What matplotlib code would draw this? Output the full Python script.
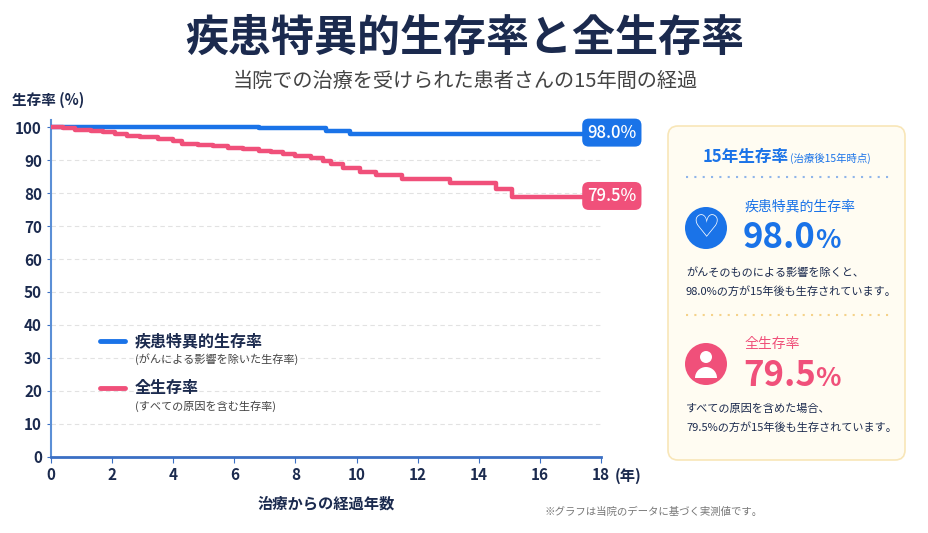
import matplotlib.pyplot as plt
from matplotlib.patches import FancyBboxPatch, Circle, Wedge

plt.rcParams['font.family'] = ['Noto Sans CJK JP', 'DejaVu Sans']

# 疾患特異的生存率 (step points: year, value after step)
dss_t = [0, 6.8, 9.0, 9.8, 17.4]
dss_v = [100, 99.6, 98.8, 98.0, 98.0]

# 全生存率
os_t = [0, 0.4, 0.8, 1.3, 1.7, 2.1, 2.5, 2.9, 3.5, 4.0, 4.3, 4.8, 5.3, 5.8,
        6.3, 6.8, 7.2, 7.6, 8.0, 8.5, 8.9, 9.15, 9.55, 10.1, 10.65, 11.5,
        13.05, 14.55, 15.1, 17.4]
os_v = [100, 99.6, 99.2, 98.8, 98.4, 97.9, 97.4, 96.9, 96.4, 95.9, 94.8, 94.5,
        94.1, 93.7, 93.3, 92.8, 92.3, 91.8, 91.3, 90.5, 89.8, 88.7, 87.7, 86.5,
        85.5, 84.1, 82.9, 81.2, 78.8, 78.8]

x_ticks = [0, 2, 4, 6, 8, 10, 12, 14, 16, 18]
y_ticks = [0, 10, 20, 30, 40, 50, 60, 70, 80, 90, 100]

BLUE = '#1a73e8'
PINK = '#f0507a'
NAVY = '#1b2a4e'

fig = plt.figure(figsize=(9.29, 5.33), dpi=100)
fig.patch.set_facecolor('white')

ax = fig.add_axes([0.0549, 0.1426, 0.592, 0.6315])
ax.step(dss_t, dss_v, where='post', color=BLUE, lw=3.2, solid_capstyle='round', zorder=3)
ax.step(os_t, os_v, where='post', color=PINK, lw=3.2, solid_capstyle='round', zorder=3)

ax.set_xlim(0, 18)
ax.set_ylim(0, 102)
ax.set_xticks(x_ticks)
ax.set_yticks(y_ticks)
ax.tick_params(axis='both', colors='#3a6fc4', labelcolor=NAVY, labelsize=11, length=4)
ax.tick_params(axis='y', length=3)
for lab in ax.get_xticklabels() + ax.get_yticklabels():
    lab.set_fontweight('bold')
for s in ['top', 'right']:
    ax.spines[s].set_visible(False)
ax.spines['left'].set_color('#5b8fd6')
ax.spines['bottom'].set_color('#3a6fc4')
ax.spines['left'].set_linewidth(1.5)
ax.spines['bottom'].set_linewidth(2)
for y in y_ticks[1:-1]:
    ax.axhline(y, color='#e2e2e2', lw=0.8, ls=(0, (4, 3)), zorder=1)

ax.text(18.45, -3.4, '(年)', ha='left', va='top', fontsize=11, fontweight='bold',
        color=NAVY, clip_on=False)
ax.set_xlabel('治療からの経過年数', fontsize=11, fontweight='bold', color=NAVY, labelpad=9)

# end labels
for v, txt, c in [(dss_v[-1], '98.0%', BLUE), (os_v[-1], '79.5%', PINK)]:
    ax.text(17.55, v + 0.3, txt, ha='left', va='center', fontsize=12, color='white',
            fontweight='medium', clip_on=False, zorder=5,
            bbox=dict(boxstyle='round,pad=0.3,rounding_size=0.4', fc=c, ec='none'))

# legend
lx0, lx1, tx = 0.089, 0.135, 0.153
for ly, c, name, sub in [(0.345, BLUE, '疾患特異的生存率', '(がんによる影響を除いた生存率)'),
                         (0.205, PINK, '全生存率', '(すべての原因を含む生存率)')]:
    ax.plot([lx0, lx1], [ly, ly], transform=ax.transAxes, color=c, lw=3.5,
            solid_capstyle='round')
    ax.text(tx, ly, name, transform=ax.transAxes, fontsize=11.5, fontweight='bold',
            color=NAVY, va='center')
    ax.text(tx, ly - 0.053, sub, transform=ax.transAxes, fontsize=8, color='#444444',
            va='center')

# overlay in pixel coords
ov2 = fig.add_axes([0, 0, 1, 1], zorder=10)
ov2.set_xlim(0, 929)
ov2.set_ylim(533, 0)
ov2.axis('off')
ov2.patch.set_alpha(0)

ov2.text(465, 38, '疾患特異的生存率と全生存率', ha='center', va='center', fontsize=31,
         fontweight='bold', color=NAVY)
ov2.text(465, 81, '当院での治療を受けられた患者さんの15年間の経過', ha='center', va='center',
         fontsize=14.5, color='#444444')
ov2.text(12, 100, '生存率 (%)', ha='left', va='center', fontsize=10.5, fontweight='bold',
         color=NAVY)
ov2.text(545, 512, '※グラフは当院のデータに基づく実測値です。', ha='left', va='center',
         fontsize=7.5, color='#777777')

# right panel
ov2.add_patch(FancyBboxPatch((668, 126), 237, 334, boxstyle='round,pad=0,rounding_size=10',
                             fc='#fffcf2', ec='#f8e6b8', lw=1.2))
ov2.text(703, 157, '15年生存率', ha='left', va='center', fontsize=12, fontweight='bold',
         color=BLUE)
ov2.text(790, 158, '(治療後15年時点)', ha='left', va='center', fontsize=7.5, color=BLUE)
ov2.plot([686, 890], [177, 177], color='#8fb5ea', lw=1.5, ls=(0, (1, 3)))
ov2.plot([686, 890], [315, 315], color='#f5d28a', lw=1.5, ls=(0, (1, 3)))

# icons
ov2.add_patch(Circle((706, 228), 21, fc=BLUE, ec='none'))
ov2.text(706, 229, '♡', ha='center', va='center', fontsize=22, fontweight='bold',
         color='white', family=['DejaVu Sans'])
ov2.add_patch(Circle((706, 364), 21, fc=PINK, ec='none'))
ov2.add_patch(Circle((706, 357), 6, fc='white', ec='none'))
ov2.add_patch(Wedge((706, 378), 11, 180, 360, fc='white', ec='none'))

ov2.text(745, 207, '疾患特異的生存率', ha='left', va='center', fontsize=10, color=BLUE)
ov2.text(743, 238, '98.0', ha='left', va='center', fontsize=25, fontweight='bold', color=BLUE)
ov2.text(815, 241, '%', ha='left', va='center', fontsize=19, fontweight='bold', color=BLUE)
ov2.text(686, 273, 'がんそのものによる影響を除くと、', ha='left', va='center', fontsize=8,
         color=NAVY)
ov2.text(686, 292, '98.0%の方が15年後も生存されています。', ha='left', va='center', fontsize=8,
         color=NAVY)

ov2.text(745, 344, '全生存率', ha='left', va='center', fontsize=10, color=PINK)
ov2.text(743, 376, '79.5', ha='left', va='center', fontsize=25, fontweight='bold', color=PINK)
ov2.text(815, 379, '%', ha='left', va='center', fontsize=19, fontweight='bold', color=PINK)
ov2.text(686, 409, 'すべての原因を含めた場合、', ha='left', va='center', fontsize=8,
         color=NAVY)
ov2.text(686, 428, '79.5%の方が15年後も生存されています。', ha='left', va='center', fontsize=8,
         color=NAVY)

fig.savefig('out.png', dpi=100)
